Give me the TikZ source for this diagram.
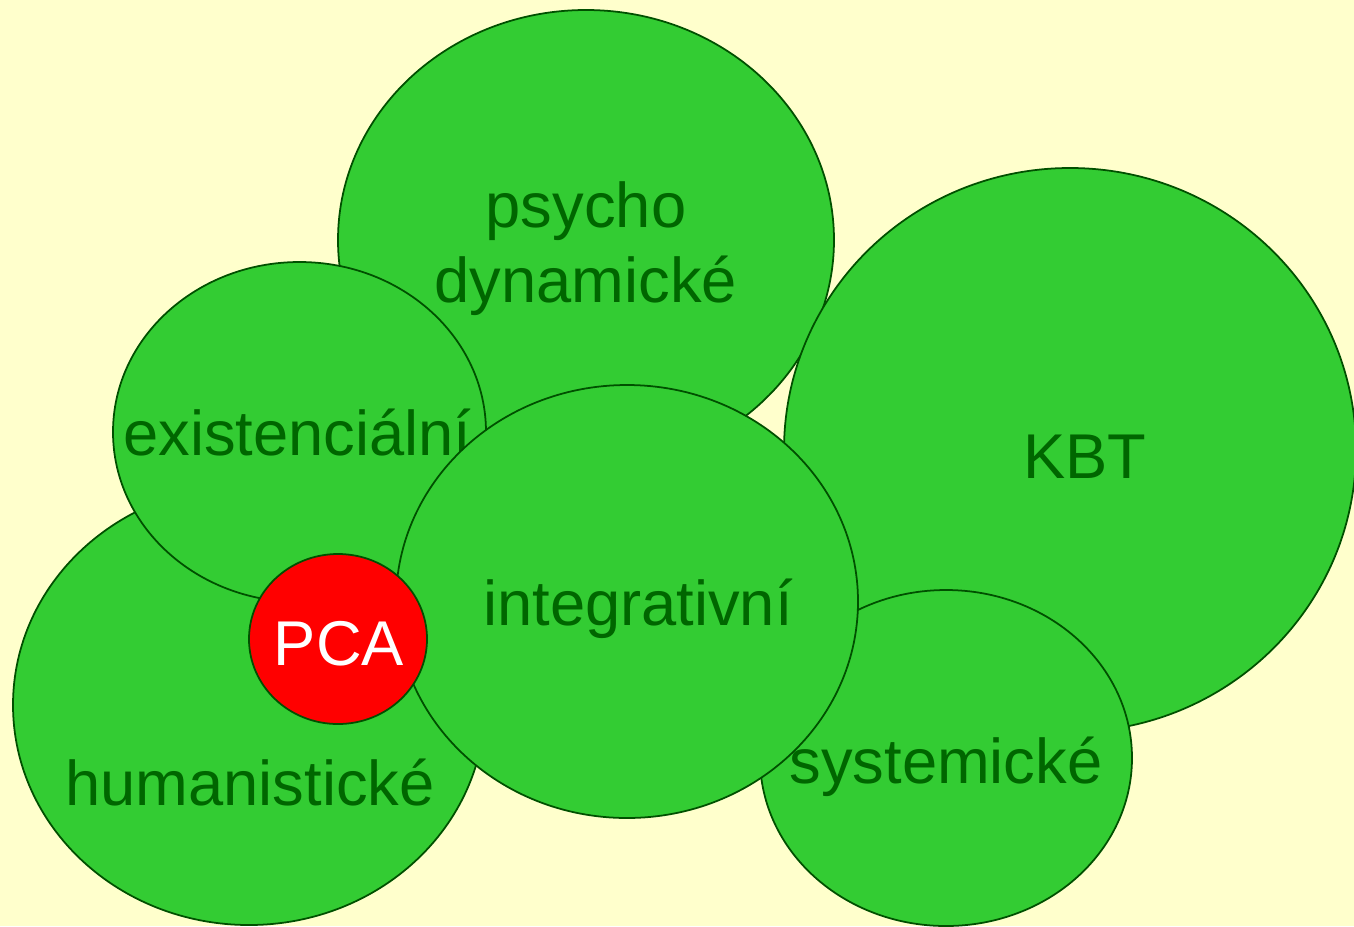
\documentclass[tikz,border=0pt]{standalone}
\usepackage{fontspec}
\setmainfont{Liberation Sans}
\usepackage{xcolor}
\usetikzlibrary{shapes.geometric}

\definecolor{paper}{RGB}{255,255,204}
\definecolor{leaf}{RGB}{51,204,51}
\definecolor{rim}{RGB}{0,80,0}
\definecolor{ink}{RGB}{0,102,0}

\begin{document}
\begin{tikzpicture}[-,
					line width=0.5pt,
					school/.style={ellipse,draw=rim,fill=leaf,inner sep=0pt},
					name text/.style={text=ink,anchor=base,align=center,
						font=\fontsize{18}{21.3}\selectfont}]

  \fill[paper] (0,0) rectangle (13.54,-9.26);
  \useasboundingbox (0,0) rectangle (13.54,-9.26);

  % schools, back to front
  \node[school,minimum width=4.96cm,minimum height=4.60cm] (psy) at (5.86,-2.40) {};
  \node[name text] (psyT) at (5.86,-3.02) {psycho\\dynamické};

  \node[school,minimum width=5.72cm,minimum height=5.64cm] (kbt) at (10.70,-4.50) {};
  \node[name text] (kbtT) at (10.85,-4.78) {KBT};

  \node[school,minimum width=4.72cm,minimum height=4.40cm] (hum) at (2.49,-7.05) {};
  \node[name text] (humT) at (2.50,-8.05) {humanistické};

  \node[school,minimum width=3.73cm,minimum height=3.40cm] (exi) at (2.995,-4.32) {};
  \node[name text] (exiT) at (2.975,-4.55) {existenciální};

  \node[school,minimum width=3.72cm,minimum height=3.36cm] (sys) at (9.46,-7.58) {};
  \node[name text] (sysT) at (9.46,-7.83) {systemické};

  \node[school,minimum width=4.62cm,minimum height=4.33cm] (int) at (6.27,-6.015) {};
  \node[name text] (intT) at (6.38,-6.25) {integrativní};

  \node[school,fill=red,minimum width=1.78cm,minimum height=1.70cm] (pca) at (3.38,-6.39) {};
  \node[name text,text=white] (pcaT) at (3.39,-6.65) {PCA};
\end{tikzpicture}
\end{document}
